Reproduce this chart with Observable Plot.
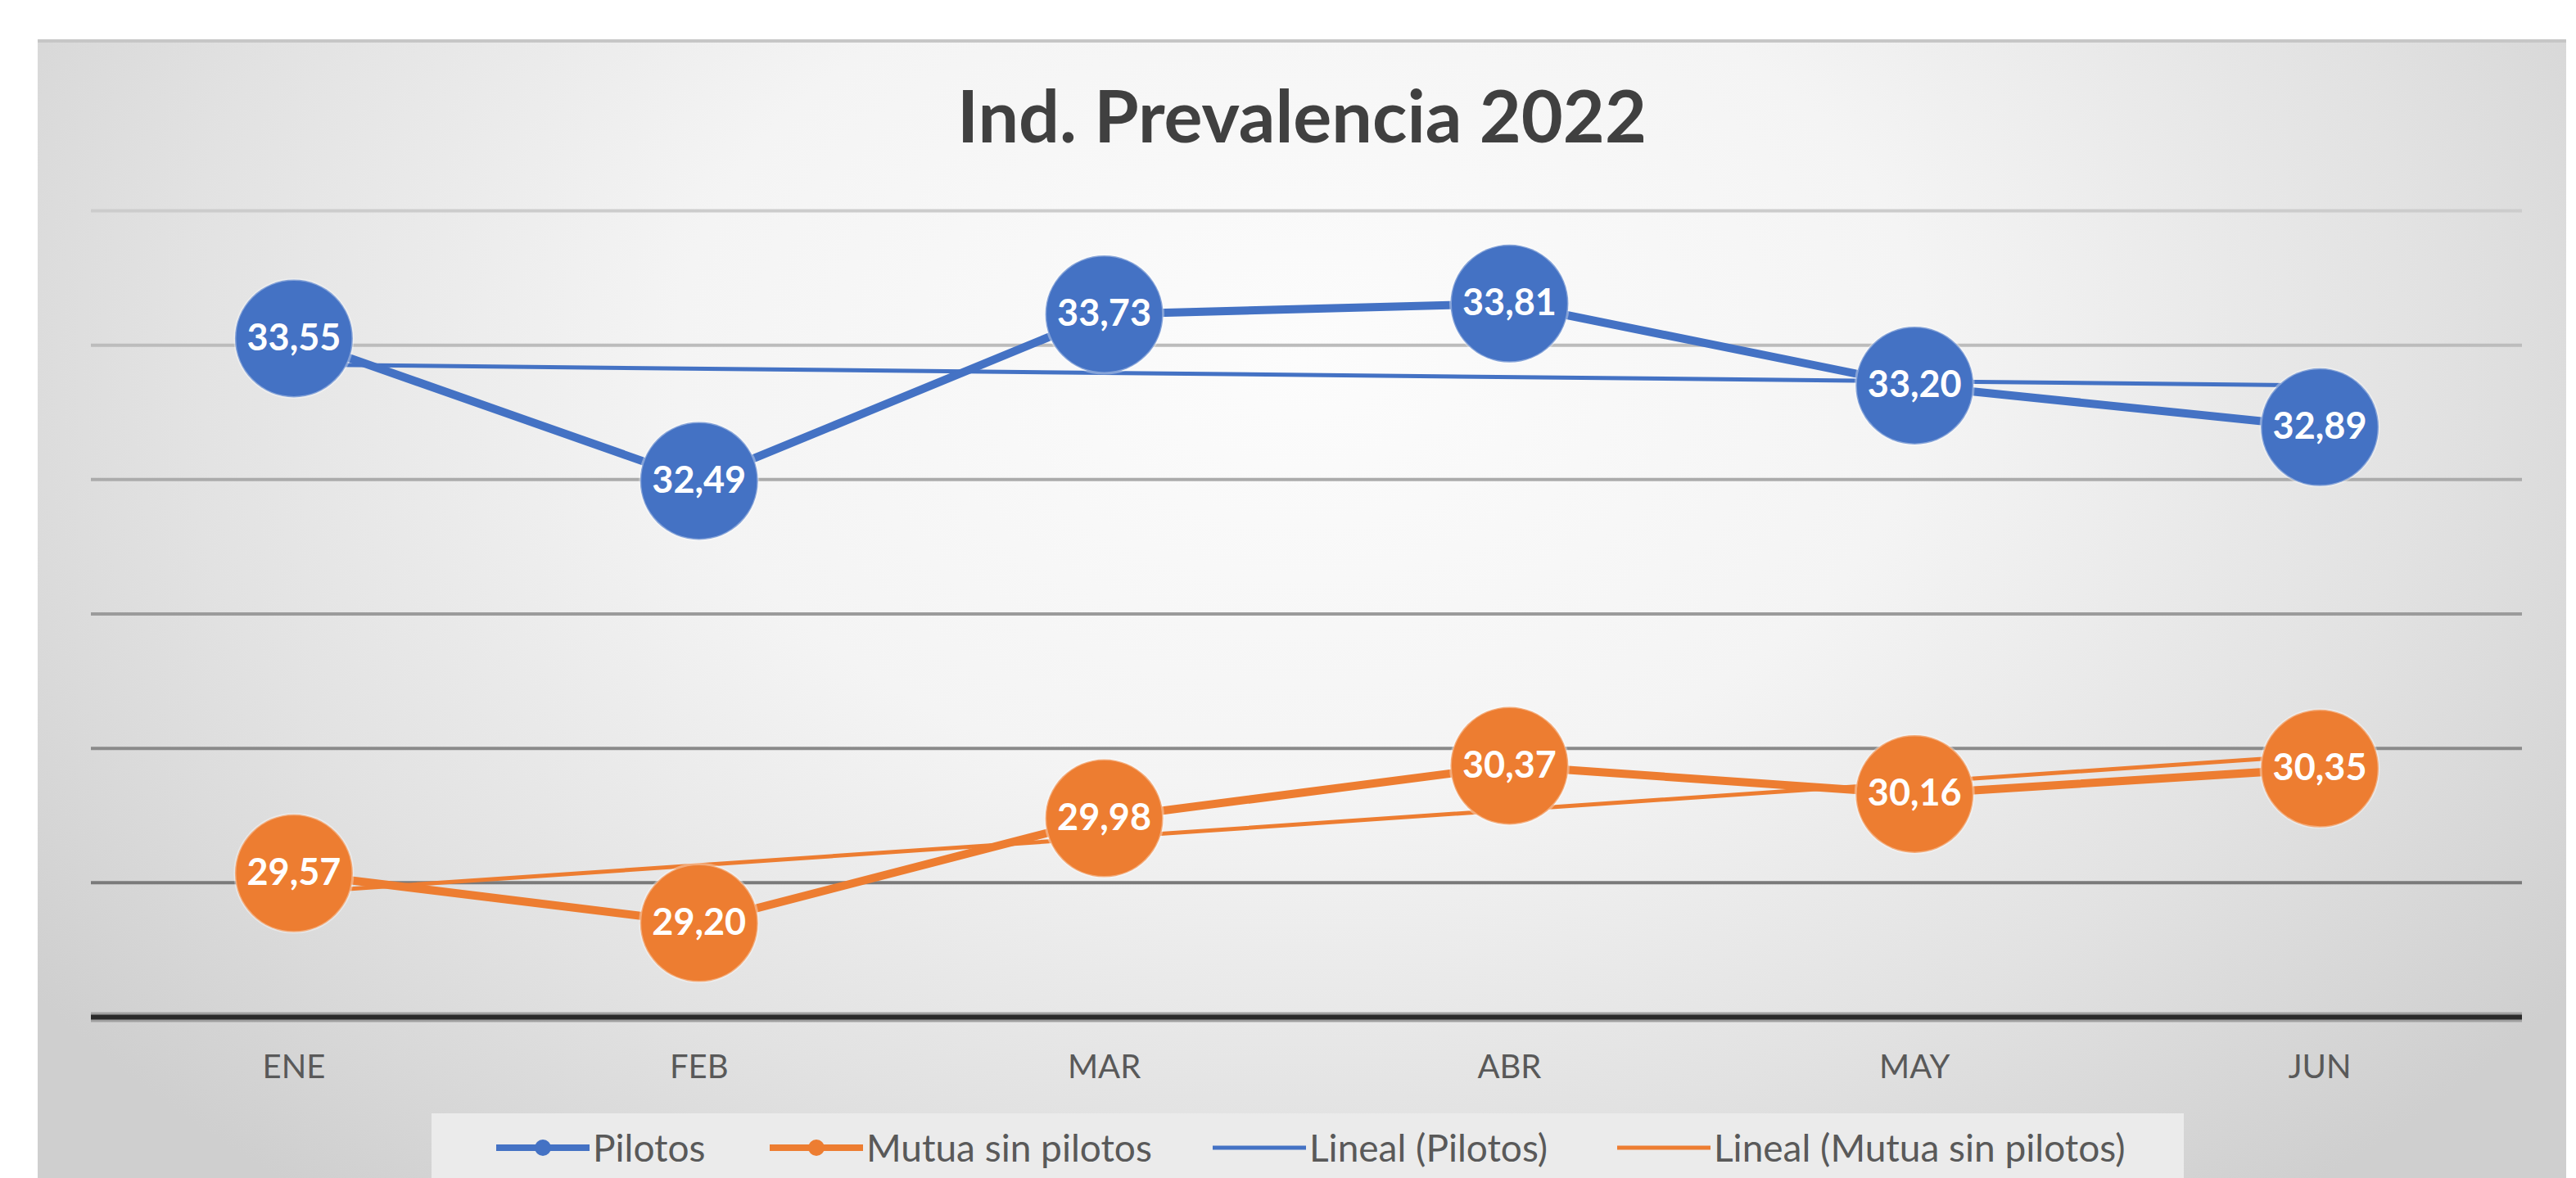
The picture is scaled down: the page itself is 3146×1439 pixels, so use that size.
<!DOCTYPE html>
<html>
<head>
<meta charset="utf-8">
<script src="https://cdn.jsdelivr.net/npm/d3@7"></script>
<script src="https://cdn.jsdelivr.net/npm/@observablehq/plot@0.6"></script>
<style>
  html, body { margin: 0; padding: 0; background: #ffffff; width: 3146px; height: 1439px; overflow: hidden; font-family: "Lato", sans-serif; }
  #frame {
    position: absolute; left: 46px; top: 48px; width: 3088px; height: 1391px;
    background: radial-gradient(ellipse 62% 95% at 50% 28%, #fcfcfc 0%, #f4f4f4 40%, #e2e2e2 72%, #cfcfcf 100%);
    border-top: 4px solid #c6c6c6;
    box-sizing: border-box;
  }
  #title {
    position: absolute; left: 46px; width: 3088px; top: 96px; text-align: center;
    font-family: "Lato", sans-serif; font-weight: 700; font-size: 88px; line-height: 1; color: #404040;
  }
  #chart { position: absolute; left: 0; top: 170px; }
  #legendbox {
    position: absolute; left: 527px; top: 1360px; width: 2140px; height: 79px; background: #ebebeb;
  }
  .lg-item { position: absolute; top: 1374px; height: 56px; display: flex; align-items: center; }
  .lg-item span { font-size: 46px; line-height: 1; color: #595959; margin-left: 4px; white-space: nowrap; }
  .lg-item svg { display: block; }
</style>
</head>
<body>
<div id="frame"></div>
<div id="title">Ind. Prevalencia 2022</div>
<div id="chart"></div>
<div id="legendbox"></div>
<div id="legend"></div>
<script>
// ---- data ----
const months = ["ENE", "FEB", "MAR", "ABR", "MAY", "JUN"];
const pilotos = [33.55, 32.49, 33.73, 33.81, 33.20, 32.89];
const mutua = [29.57, 29.20, 29.98, 30.37, 30.16, 30.35];
const gridTicks = [29.5, 30.5, 31.5, 32.5, 33.5, 34.5];
const yBase = 28.5;
const seriesNames = ["Pilotos", "Mutua sin pilotos", "Lineal (Pilotos)", "Lineal (Mutua sin pilotos)"];

// ---- styles ----
const BLUE = "#4472C4";
const ORANGE = "#ED7D31";
const gridGray = d3.scaleLinear().domain([29.5, 34.5]).range(["#7a7a7a", "#cccccc"]);

const rowsP = months.map((m, i) => ({ i: i + 1, m, v: pilotos[i] }));
const rowsM = months.map((m, i) => ({ i: i + 1, m, v: mutua[i] }));
const fmt = v => v.toFixed(2).replace(".", ",");

function seriesMarks(rows, color) {
  return [
    Plot.linearRegressionY(rows, { x: "i", y: "v", stroke: color, strokeWidth: 5, ci: 0 }),
    Plot.line(rows, { x: "i", y: "v", stroke: color, strokeWidth: 10 }),
    Plot.dot(rows, { x: "i", y: "v", r: 72, fill: color, stroke: "#ffffff", strokeOpacity: 0.35, strokeWidth: 3 }),
    Plot.text(rows, { x: "i", y: "v", text: d => fmt(d.v), fill: "#ffffff", fontSize: 45, fontWeight: 700 })
  ];
}

const chart = Plot.plot({
  width: 3146,
  height: 1180,
  marginLeft: 111,
  marginRight: 66,
  marginTop: 87,
  marginBottom: 108,
  style: { background: "transparent", fontFamily: "Lato, sans-serif" },
  x: { domain: [0.5, 6.5] },
  y: { domain: [28.5, 34.5], axis: null },
  marks: [
    ...gridTicks.map(t => Plot.ruleY([t], { stroke: gridGray(t), strokeWidth: 4 })),
    Plot.ruleY([yBase], { stroke: "#a0a0a0", strokeWidth: 12 }),
    Plot.ruleY([yBase], { stroke: "#2a2a2a", strokeWidth: 6 }),
    Plot.axisX(months.map((m, i) => i + 1), {
      tickSize: 0, tickPadding: 46, fontSize: 40, fill: "#595959",
      tickFormat: i => months[i - 1], label: null
    }),
    ...seriesMarks(rowsP, BLUE),
    ...seriesMarks(rowsM, ORANGE)
  ]
});
document.getElementById("chart").appendChild(chart);

// ---- legend ----
const legendLefts = [606, 940, 1481, 1975];
const legendDefs = [
  { color: BLUE, marker: true },
  { color: ORANGE, marker: true },
  { color: BLUE, marker: false },
  { color: ORANGE, marker: false }
];
const legend = document.getElementById("legend");
seriesNames.forEach((name, k) => {
  const def = legendDefs[k];
  const item = document.createElement("div");
  item.className = "lg-item";
  item.style.left = legendLefts[k] + "px";
  const w = 114;
  item.innerHTML =
    `<svg width="${w}" height="30" viewBox="0 0 ${w} 30">` +
    `<line x1="0" x2="${w}" y1="15" y2="15" stroke="${def.color}" stroke-width="${def.marker ? 8 : 5}"/>` +
    (def.marker ? `<circle cx="${w / 2}" cy="15" r="10" fill="${def.color}"/>` : "") +
    `</svg><span>${name}</span>`;
  legend.appendChild(item);
});
</script>
</body>
</html>
